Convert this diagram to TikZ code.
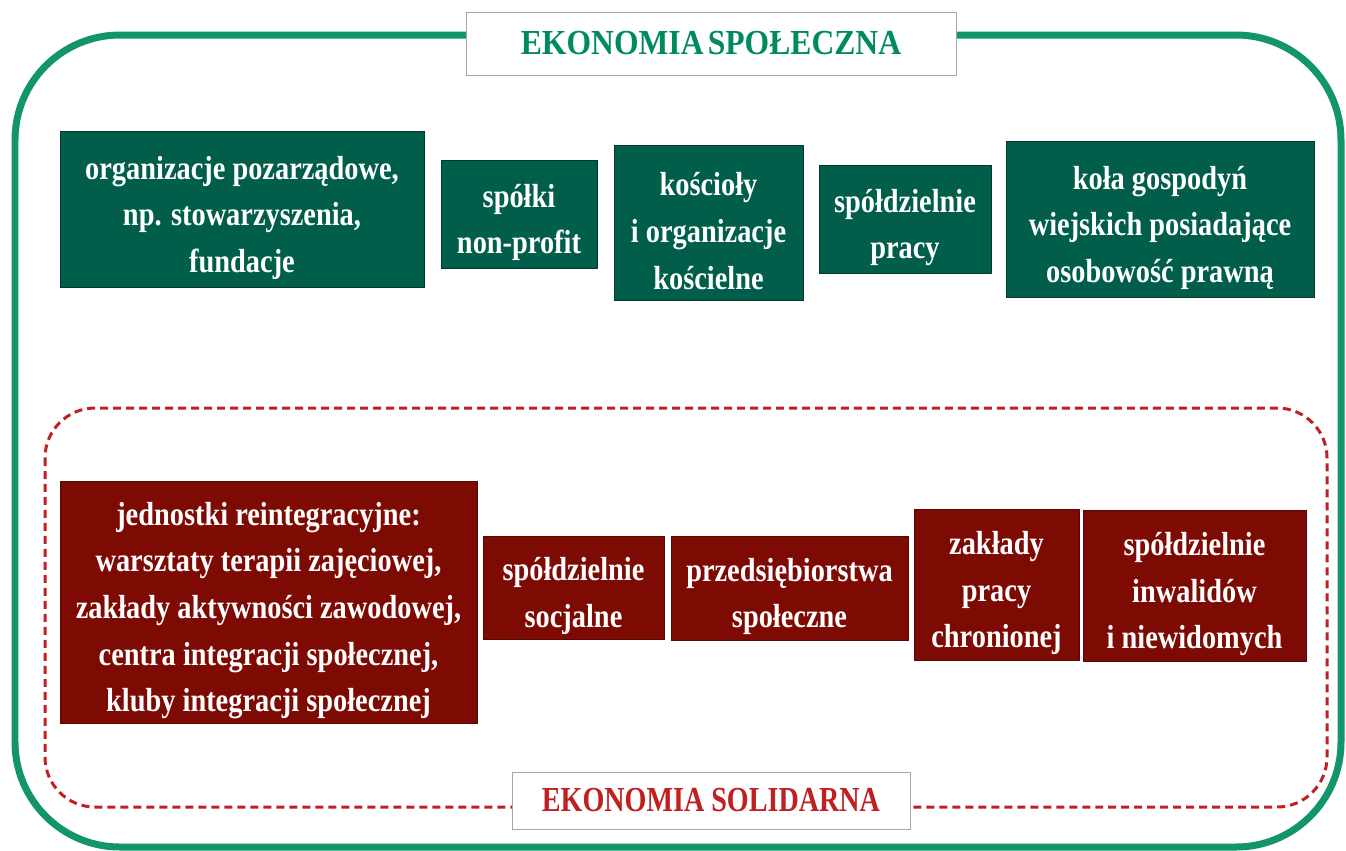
\documentclass[tikz,border=0pt]{standalone}
\usepackage{fontspec}
\usepackage{tikz}
\setmainfont{Liberation Serif}
\newfontfamily\boxfont[FakeStretch=0.85]{Liberation Serif}
\newfontfamily\titlefont[FakeStretch=0.9]{Liberation Serif}
\newfontfamily\soltitlefont[FakeStretch=0.8]{Liberation Serif}
\newcommand\tup{\rule{0pt}{23pt}}
\definecolor{esgreen}{RGB}{18,148,108}
\definecolor{esbox}{RGB}{0,94,74}
\definecolor{estitle}{RGB}{0,138,98}
\definecolor{sored}{RGB}{192,32,34}
\definecolor{sobox}{RGB}{126,10,4}
\tikzset{
  gbox/.style={fill=esbox, draw=esbox!60!black, line width=0.4pt, text=white,
    align=center, inner sep=0pt, font=\boxfont\bfseries\fontsize{19}{26.5}\selectfont},
  rbox/.style={gbox, fill=sobox, draw=sobox!70!black},
  titlebox/.style={fill=white, draw=black!35, line width=0.5pt, inner sep=0pt,
    font=\titlefont\bfseries\fontsize{20}{24}\selectfont}
}

\begin{document}
\begin{tikzpicture}[x=0.02cm, y=-0.02cm]
        \useasboundingbox (0,0) rectangle (1346,850);

        \coordinate (o1) at (15,35);
        \coordinate (o2) at (1341,847);
        \coordinate (s1) at (45,408);
        \coordinate (s2) at (1327,807);

        \draw[esgreen, line width=0.14cm, rounded corners=2.1cm] (o1) rectangle (o2);
        \draw[sored, line width=0.06cm, dash pattern=on 0.16cm off 0.1cm,
              rounded corners=1cm] (s1) rectangle (s2);

        \node[titlebox, text=estitle, minimum width=9.8cm, minimum height=1.26cm]
            (tspol) at (711,43.5) {EKONOMIA\hspace{0.12em}SPOŁECZNA};
        \node[titlebox, text=sored, font=\soltitlefont\bfseries\fontsize{20}{24}\selectfont,
              minimum width=7.96cm, minimum height=1.14cm]
            (tsol) at (711,800.5) {EKONOMIA SOLIDARNA};

        % ekonomia spoleczna
        \node[gbox, minimum width=7.28cm, minimum height=3.12cm] (ngo) at (242,209)
            {\tup organizacje pozarządowe,\\np. stowarzyszenia,\\fundacje};
        \node[gbox, minimum width=3.12cm, minimum height=2.16cm] (spolki) at (519,214)
            {\tup spółki\\non-profit};
        \node[gbox, minimum width=3.78cm, minimum height=3.10cm] (koscioly) at (708.5,222.5)
            {\tup kościoły\\i organizacje\\kościelne};
        \node[gbox, minimum width=3.44cm, minimum height=2.16cm] (sprac) at (905,219)
            {\tup spółdzielnie\\pracy};
        \node[gbox, minimum width=6.16cm, minimum height=3.12cm] (kgw) at (1160,219)
            {\tup koła gospodyń\\wiejskich posiadające\\osobowość prawną};

        % ekonomia solidarna
        \node[rbox, minimum width=8.34cm, minimum height=4.84cm] (reint) at (268.5,602)
            {\tup jednostki reintegracyjne:\\warsztaty terapii zajęciowej,\\zakłady aktywności zawodowej,\\centra integracji społecznej,\\kluby integracji społecznej};
        \node[rbox, minimum width=3.62cm, minimum height=2.06cm] (ssoc) at (573.5,587.5)
            {\tup spółdzielnie\\socjalne};
        \node[rbox, minimum width=4.74cm, minimum height=2.08cm] (pspol) at (789.5,588)
            {\tup przedsiębiorstwa\\społeczne};
        \node[rbox, minimum width=3.30cm, minimum height=3.02cm] (zpch) at (996.5,584.5)
            {\tup zakłady\\pracy\\chronionej};
        \node[rbox, minimum width=4.46cm, minimum height=3.02cm] (sinw) at (1194.5,585.5)
            {\tup spółdzielnie\\inwalidów\\i niewidomych};
    \end{tikzpicture}
\end{document}
